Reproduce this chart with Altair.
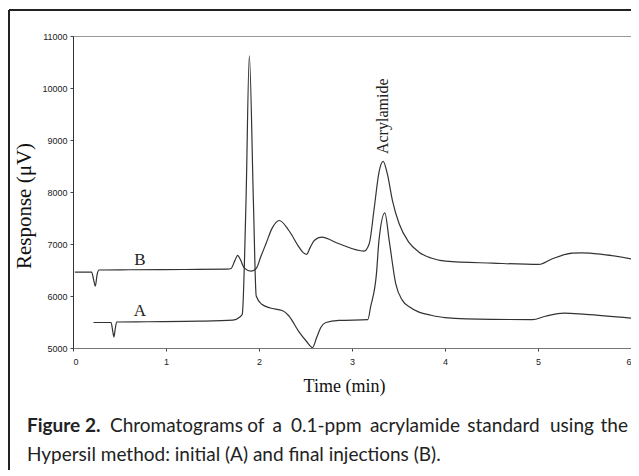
import altair as alt
import pandas as pd

# Trace A (initial injection)
tA = [0.22, 0.41, 0.425, 0.44, 0.455, 0.47, 0.8, 1.36, 1.72, 1.79, 1.82, 1.86, 1.896, 1.94, 1.97,
      2.03, 2.12, 2.25, 2.32, 2.43, 2.51, 2.575, 2.62, 2.666, 2.72, 2.86, 3.17, 3.20, 3.263, 3.29,
      3.353, 3.40, 3.47, 3.54, 3.62, 3.72, 3.85, 4.0, 4.5, 4.94, 5.08, 5.28, 5.51, 6.0]
vA = [5490, 5490, 5350, 5210, 5380, 5500, 5505, 5515, 5535, 5590, 5650, 7800, 10620, 7800, 6000,
      5840, 5770, 5720, 5620, 5310, 5130, 5010, 5200, 5400, 5490, 5530, 5545, 5790, 6430, 7070,
      7600, 7064, 6240, 5920, 5790, 5690, 5630, 5585, 5550, 5545, 5610, 5672, 5647, 5576]

# Trace B (final injection)
tB = [0.02, 0.20, 0.22, 0.24, 0.26, 0.28, 0.6, 1.2, 1.66, 1.70, 1.74, 1.77, 1.80, 1.84, 1.914,
      1.97, 2.02, 2.075, 2.14, 2.218, 2.325, 2.43, 2.47, 2.51, 2.55, 2.594, 2.673, 2.86, 3.13,
      3.185, 3.24, 3.29, 3.335, 3.38, 3.435, 3.507, 3.61, 3.72, 3.85, 4.008, 4.51, 5.01, 5.154,
      5.37, 5.47, 5.69, 6.0]
vB = [6460, 6460, 6330, 6190, 6420, 6500, 6505, 6510, 6515, 6530, 6680, 6780, 6700, 6540, 6478,
      6530, 6760, 7005, 7300, 7452, 7250, 6940, 6843, 6800, 6930, 7068, 7131, 7004, 6863,
      7004, 7707, 8379, 8590, 8348, 7836, 7388, 7035, 6843, 6730, 6670, 6632, 6607, 6716,
      6824, 6830, 6800, 6715]

x_ticks = [0, 1, 2, 3, 4, 5, 6]
y_ticks = [5000, 6000, 7000, 8000, 9000, 10000, 11000]

trace_names = ["A", "B"]
trace_label_t = [0.72, 0.72]
trace_label_v = [5710, 6690]

peak_name = ["Acrylamide"]
peak_t = [3.33]
peak_v = [8730]

y_title = "Response (\u03bcV)"
x_title = "Time (min)"
cap_bold = "Figure 2."
cap_words1 = ["Chromatograms", "of", "a", "0.1-ppm", "acrylamide", "standard", "using", "the"]
cap_line2 = "Hypersil method: initial (A) and final injections (B)."

df = pd.DataFrame({
    "t": tA + tB,
    "v": vA + vB,
    "s": ["A"] * len(tA) + ["B"] * len(tB),
})

W, H = 558, 312
SERIF = "Liberation Serif"
CAPF = "Lato"
CAPS = 19

x_enc = alt.X("t:Q", scale=alt.Scale(domain=[0, 6], nice=False),
              axis=alt.Axis(values=x_ticks, format="d", title=x_title, tickSize=3, labelPadding=6,
                            domainColor="#777", titleFont=SERIF, titleFontSize=18,
                            titleFontWeight="normal", titleColor="#111",
                            titleX=271, titleY=43, titleBaseline="alphabetic"))
y_enc = alt.Y("v:Q", scale=alt.Scale(domain=[5000, 11000], nice=False, zero=False),
              axis=alt.Axis(values=y_ticks, format="d", title=None, tickSize=3, labelPadding=3,
                            domainColor="#333"))

lines = alt.Chart(df).mark_line(interpolate="monotone", color="#333", strokeWidth=1.2).encode(
    x=x_enc, y=y_enc, detail="s:N")

lab_df = pd.DataFrame({"name": trace_names, "t": trace_label_t, "v": trace_label_v})
labels = alt.Chart(lab_df).mark_text(font=SERIF, fontSize=17, color="#222").encode(
    x="t:Q", y="v:Q", text="name:N")

pk_df = pd.DataFrame({"name": peak_name, "t": peak_t, "v": peak_v})
peak = alt.Chart(pk_df).mark_text(font=SERIF, fontSize=16, color="#222", angle=270,
                                  align="left", baseline="middle").encode(
    x="t:Q", y="v:Q", text="name:N")

one = pd.DataFrame({"a": [0]})
ytitle = alt.Chart(one).mark_text(font=SERIF, fontSize=21, color="#111", angle=270,
                                  align="center", baseline="middle", text=y_title).encode(
    x=alt.value(-48), y=alt.value(170))

cap_layers = [
    alt.Chart(one).mark_text(font=CAPF, fontSize=CAPS, fontWeight="bold", color="#222",
                             align="left", baseline="alphabetic", text=cap_bold).encode(
        x=alt.value(-46), y=alt.value(396))
]
# anchor positions (px from plot left) used to justify the first caption line
word_x = [37, 174.3, 199.6, 218, 296.9, 394.3, 477, 555]
word_align = ["left", "left", "left", "left", "left", "left", "left", "right"]
for w, px, al in zip(cap_words1, word_x, word_align):
    cap_layers.append(
        alt.Chart(one).mark_text(font=CAPF, fontSize=CAPS, color="#222", align=al,
                                 baseline="alphabetic", text=w).encode(
            x=alt.value(px), y=alt.value(396)))
cap_layers.append(
    alt.Chart(one).mark_text(font=CAPF, fontSize=CAPS, color="#222", align="left",
                             baseline="alphabetic", text=cap_line2).encode(
        x=alt.value(-46), y=alt.value(425)))

frame_top = alt.Chart(one).mark_rule(color="#222", strokeWidth=2).encode(
    x=alt.value(-64), x2=alt.value(560), y=alt.value(-26))
frame_left = alt.Chart(one).mark_rule(color="#222", strokeWidth=2).encode(
    x=alt.value(-64), y=alt.value(-26), y2=alt.value(440))

chart = alt.layer(lines, labels, peak, ytitle, *cap_layers, frame_top, frame_left).properties(
    width=W, height=H,
    autosize=alt.AutoSizeParams(type="none"),
    padding={"left": 65, "top": 28, "right": 0, "bottom": 122},
).configure_view(stroke="#999", strokeWidth=1).configure_axis(
    grid=False, labelFont="Liberation Sans", labelFontSize=9, labelColor="#222",
    tickColor="#444",
)

chart.save("out.html", embed_options={"renderer": "svg", "actions": False})
